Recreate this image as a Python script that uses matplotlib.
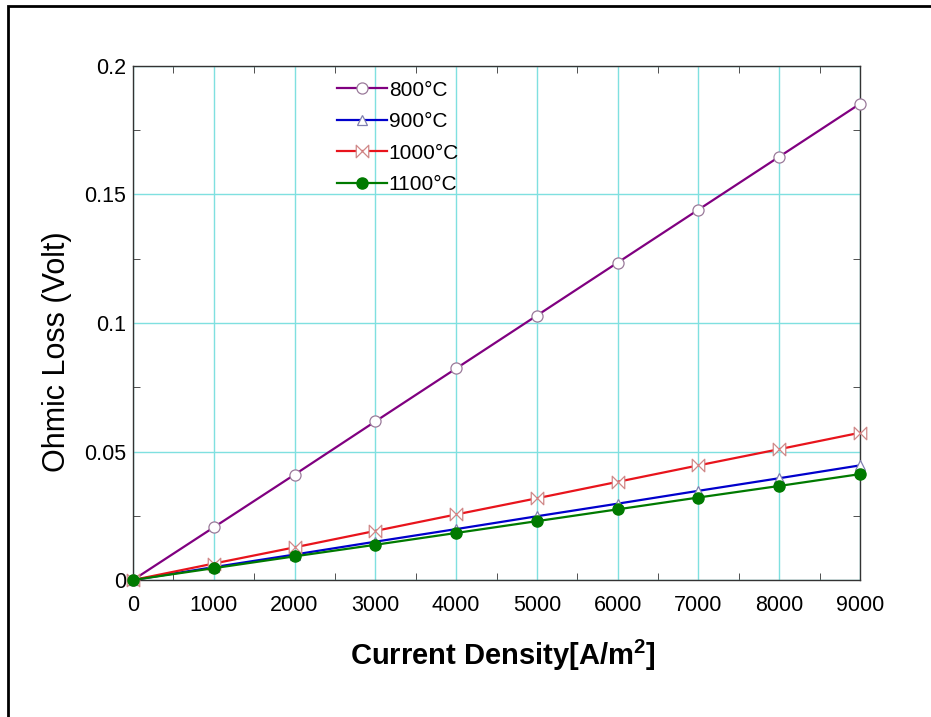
import matplotlib
matplotlib.use("Agg")
import matplotlib.pyplot as plt
import numpy as np
from matplotlib.path import Path
from matplotlib.patches import Rectangle
from matplotlib.ticker import MultipleLocator, FormatStrFormatter

plt.rcParams['font.family'] = ['Liberation Sans', 'DejaVu Sans']
plt.rcParams['mathtext.fontset'] = 'custom'
plt.rcParams['mathtext.rm'] = 'Liberation Sans'
plt.rcParams['mathtext.bf'] = 'Liberation Sans:bold'

# current density [A/m2]
current = [0, 1000, 2000, 3000, 4000, 5000, 6000, 7000, 8000, 9000]

# ohmic loss [V]
loss_800 = [0, 0.0205, 0.0410, 0.0617, 0.0823, 0.1029, 0.1235, 0.1441, 0.1647, 0.1853]
loss_900 = [0, 0.0050, 0.0099, 0.0149, 0.0198, 0.0248, 0.0297, 0.0347, 0.0396, 0.0446]
loss_1000 = [0, 0.0064, 0.0127, 0.0191, 0.0255, 0.0318, 0.0382, 0.0446, 0.0509, 0.0573]
loss_1100 = [0, 0.0046, 0.0092, 0.0137, 0.0183, 0.0229, 0.0275, 0.0321, 0.0366, 0.0412]

labels = ['800°C', '900°C', '1000°C', '1100°C']

# bowtie marker
bowtie = Path([(-1, -1), (1, 1), (1, -1), (-1, 1), (-1, -1)],
              [Path.MOVETO, Path.LINETO, Path.LINETO, Path.LINETO, Path.CLOSEPOLY])

fig = plt.figure(figsize=(9.31, 7.17), dpi=100)
ax = fig.add_axes([133/931, 1-580/717, (860-133)/931, (580-66)/717])

ax.plot(current, loss_800, color='#800080', lw=1.6, marker='o', ms=8,
        mfc='white', mec='#9a7a9a', mew=0.9, label=labels[0], clip_on=False, zorder=3)
ax.plot(current, loss_900, color='#0000cc', lw=1.6, marker='^', ms=6.5,
        mfc='white', mec='#8080b0', mew=0.9, label=labels[1], clip_on=False, zorder=3)
ax.plot(current, loss_1000, color='#e8141c', lw=1.6, marker=bowtie, ms=9,
        mfc='white', mec='#d08888', mew=0.9, label=labels[2], clip_on=False, zorder=3)
ax.plot(current, loss_1100, color='#007a00', lw=1.6, marker='o', ms=8,
        mfc='#007a00', mec='#007a00', label=labels[3], clip_on=False, zorder=3)

ax.set_xlim(0, 9000)
ax.set_ylim(0, 0.2)
ax.xaxis.set_major_locator(MultipleLocator(1000))
ax.xaxis.set_minor_locator(MultipleLocator(500))
ax.yaxis.set_major_locator(MultipleLocator(0.05))
ax.yaxis.set_minor_locator(MultipleLocator(0.025))
ax.yaxis.set_major_formatter(FormatStrFormatter('%g'))
ax.grid(True, which='major', color='#7fe0e0', lw=1)
ax.tick_params(which='both', direction='in', top=True, right=True,
               labelsize=15.5, color='#333333')
ax.tick_params(axis='x', which='major', pad=11)
ax.tick_params(axis='y', which='major', pad=5)
ax.tick_params(which='major', length=0)
ax.tick_params(which='minor', length=5)
for s in ax.spines.values():
    s.set_color('#333333')
    s.set_linewidth(1)

ax.set_xlabel(r'Current Density[A/m$^\mathbf{2}$]', fontsize=21, fontweight='bold')
ax.xaxis.set_label_coords(0.508, -0.113)
ax.set_ylabel('Ohmic Loss (Volt)', fontsize=22)
ax.yaxis.set_label_coords(-0.084, 0.445)

ax.legend(loc='upper left', bbox_to_anchor=(0.26, 1.0), frameon=False,
          fontsize=15, handlelength=2.4, handletextpad=0.1, labelspacing=0.6,
          borderaxespad=0.3)

fig.add_artist(Rectangle((8/931, -0.1), 1.2, 1.1 - 6/717, fill=False,
                         lw=2, ec='black', transform=fig.transFigure, clip_on=False))

fig.savefig('out.png', dpi=100)
